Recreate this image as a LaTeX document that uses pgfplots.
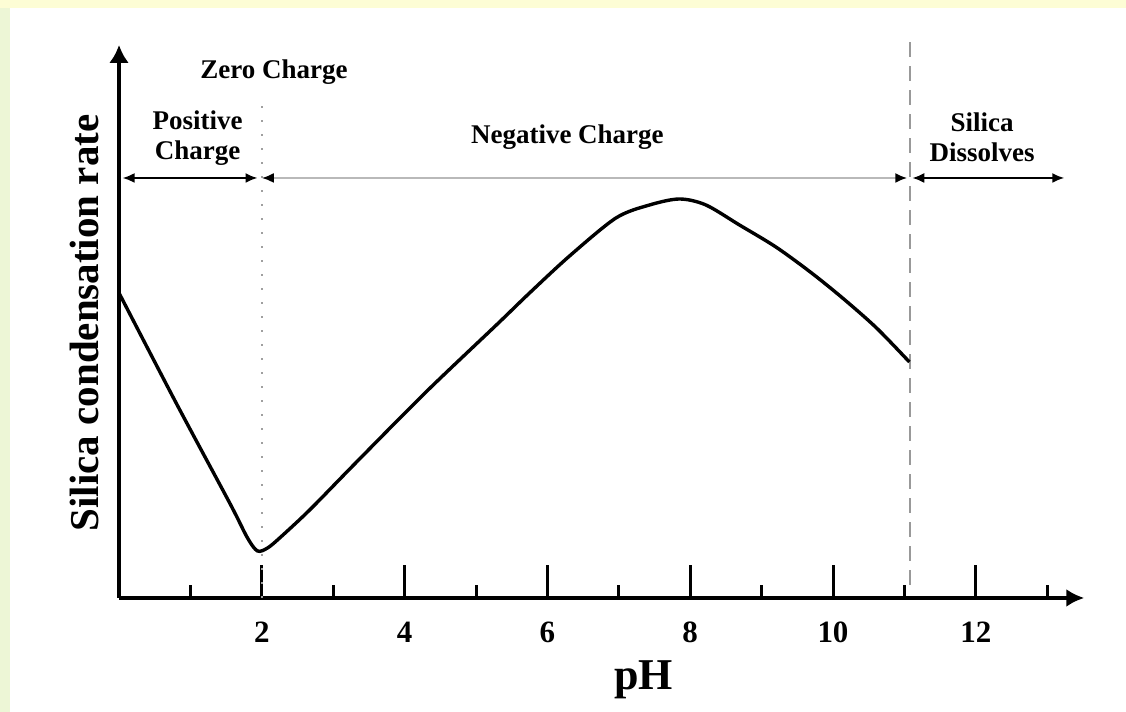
\documentclass[border=0pt]{standalone}
\usepackage{fontspec}
\setmainfont{Liberation Serif}
\usepackage{pgfplots}
\pgfplotsset{compat=1.18}
\usetikzlibrary{arrows.meta}
\definecolor{bgyel}{HTML}{FDFDD5}
\definecolor{bgleft}{HTML}{EDF6D6}

\begin{document}
\begin{tikzpicture}
\begin{axis}[
    set layers,
    x=35.7pt, y=50pt,
    xmin=0, xmax=13.52, ymin=0, ymax=5.53,
    axis lines=left,
    axis line style={line width=1.8pt},
    x axis line style={-{Latex[length=9pt,width=9pt]}},
    y axis line style={-{Latex[length=9pt,width=10pt]}},
    xtick={2,4,...,12}, minor xtick={1,3,...,13}, ytick=\empty,
    tick align=inside,
    major tick length=16.5pt, minor tick length=6.5pt,
    tick style={line width=1.5pt, black},
    xticklabel style={font=\bfseries\fontsize{15.5}{15.5}\selectfont, yshift=-8.5pt},
    /pgf/number format/assume math mode=true,
    clip=false]

  \begin{pgfonlayer}{axis background}
    \fill[bgyel] (axis cs:-1.667,-1.14) rectangle (axis cs:14.104,5.98);
    \fill[bgleft] (axis cs:-1.667,-1.14) rectangle (axis cs:-1.527,5.90);
    \fill[white] (axis cs:-1.527,-1.14) rectangle (axis cs:14.104,5.90);
  \end{pgfonlayer}

  % region boundaries
  \draw[gray!75, line width=1.1pt, dash pattern=on 1pt off 6pt] (axis cs:2,0) -- (axis cs:2,5.03);
  \draw[gray!80, line width=1pt, dash pattern=on 7.5pt off 4.5pt] (axis cs:11.08,0.13) -- (axis cs:11.08,5.58);

  % rate curve
  \addplot[black, line width=1.7pt, smooth, tension=0.5] coordinates {
    (0.00,3.05) (0.80,1.95) (1.55,0.95) (1.80,0.60)
    (1.94,0.47) (2.08,0.50) (2.25,0.60) (2.67,0.88) (3.30,1.34)
    (4.30,2.06) (5.30,2.74) (5.75,3.05) (6.31,3.42) (6.96,3.80)
    (7.43,3.93) (7.85,3.99) (8.22,3.93) (8.69,3.73) (9.20,3.51)
    (9.70,3.25) (10.15,2.99) (10.61,2.70) (11.07,2.36)};

  % region arrows
  \draw[{Latex[length=6pt,width=5pt]}-{Latex[length=6pt,width=5pt]}, line width=1pt]
    (axis cs:0.05,4.20) -- (axis cs:1.94,4.20);
  \draw[{Latex[length=6pt,width=5pt,color=black]}-{Latex[length=6pt,width=5pt,color=black]}, gray!55, line width=1pt]
    (axis cs:2.00,4.20) -- (axis cs:11.04,4.20);
  \draw[{Latex[length=6pt,width=5pt]}-{Latex[length=6pt,width=5pt]}, line width=1pt]
    (axis cs:11.11,4.20) -- (axis cs:13.24,4.20);

  \begin{scope}[every node/.style={font=\bfseries\fontsize{13.5}{15}\selectfont, align=center, inner sep=0pt}]
    \node at (axis cs:2.17,5.26) {Zero Charge};
    \node at (axis cs:1.10,4.60) {Positive\\Charge};
    \node at (axis cs:6.28,4.61) {Negative Charge};
    \node at (axis cs:12.09,4.61) {Silica\\Dissolves};
  \end{scope}

  \node[font=\bfseries\fontsize{22}{22}\selectfont] at (axis cs:7.35,-0.82) {pH};
  \node[font=\bfseries\fontsize{20.5}{20.5}\selectfont, rotate=90] at (axis cs:-0.483,2.75) {Silica condensation rate};
\end{axis}
\end{tikzpicture}
\end{document}
